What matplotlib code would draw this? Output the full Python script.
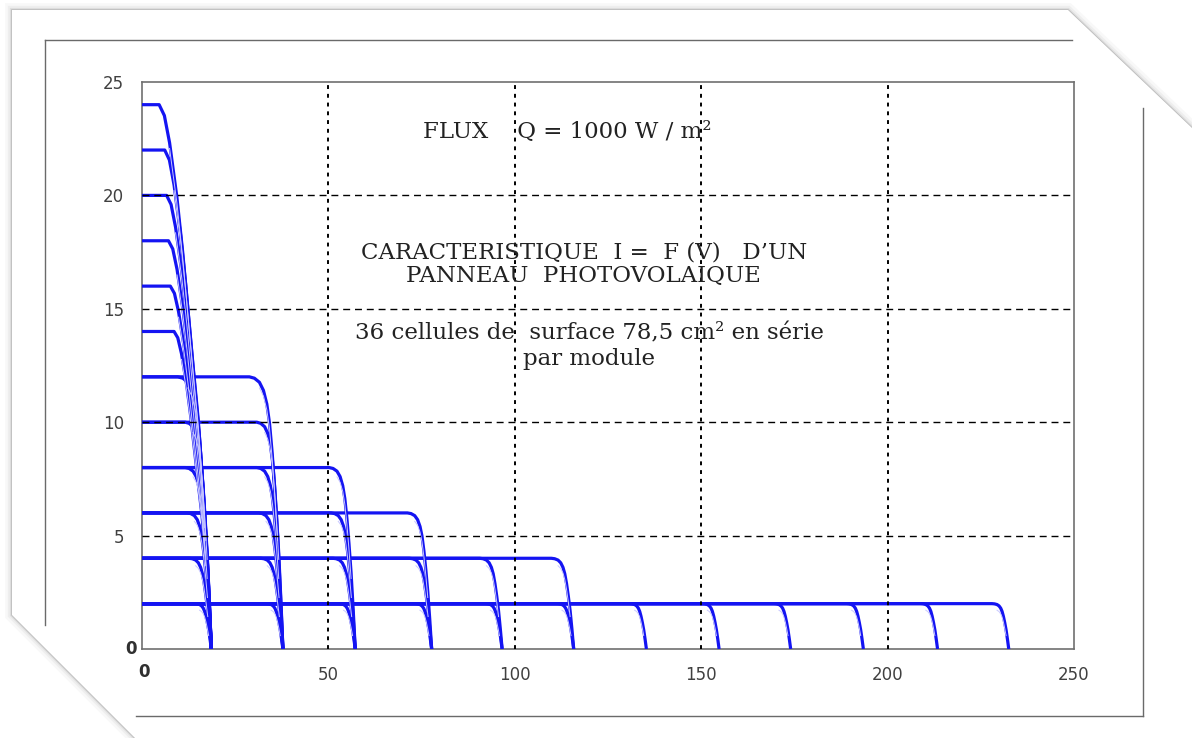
import numpy as np
import matplotlib
matplotlib.use("Agg")
import matplotlib.pyplot as plt
from matplotlib.patches import Polygon
from matplotlib.lines import Line2D

# ---------------- data ----------------
# module current levels (p modules in parallel -> Isc)
isc_levels = [2, 4, 6, 8, 10, 12, 14, 16, 18, 20, 22, 24]
# open-circuit voltage for s modules in series (s = 1..12)
voc_series = [18.6, 37.8, 57.2, 77.7, 96.6, 115.8, 135.3, 154.8, 174.0, 193.5, 213.4, 232.5]
# number of series modules drawn for each current level
n_series = [12, 6, 4, 3, 2, 2, 1, 1, 1, 1, 1, 1]
# width of the knee (V between start of bend and Voc) for each current level
knee_width = [4.5, 6.0, 6.5, 7.0, 7.0, 9.0, 10.0, 11.0, 11.5, 12.0, 12.5, 14.0]
# normalised knee shapes (fraction of knee width, fraction of Isc)
sharp_u = [0.0, 0.15, 0.30, 0.42, 0.52, 0.60, 0.68, 0.76, 0.84, 0.92, 1.0]
sharp_i = [1.0, 0.995, 0.98, 0.95, 0.90, 0.83, 0.72, 0.58, 0.42, 0.22, 0.0]
round_u = [0.0, 0.10, 0.20, 0.34, 0.45, 0.55, 0.65, 0.75, 0.85, 0.93, 1.0]
round_i = [1.0, 0.98, 0.93, 0.83, 0.73, 0.625, 0.52, 0.42, 0.28, 0.15, 0.0]

x_ticks = [0, 50, 100, 150, 200, 250]
y_ticks = [0, 5, 10, 15, 20, 25]

W, H = 1192, 738
fig = plt.figure(figsize=(W / 100, H / 100), dpi=100)
fig.patch.set_facecolor("white")

def fx(x):
    return x / W

def fy(y):
    return 1 - y / H

# ---------------- card decoration ----------------
card = [(12, 10), (1068, 10), (1192, 128), (1192, 738), (135, 738), (12, 615)]
pts = [(fx(x), fy(y)) for x, y in card]
for lw, a in [(10, 0.05), (6, 0.08), (3, 0.15), (1.2, 0.35)]:
    fig.patches.append(Polygon(pts, closed=True, transform=fig.transFigure,
                               facecolor="none", edgecolor="#808080", lw=lw, alpha=a, zorder=0))
fig.patches.append(Polygon(pts, closed=True, transform=fig.transFigure,
                           facecolor="white", edgecolor="none", zorder=0.5))

frame_lines = [
    [(45, 40), (1072, 40)],
    [(45, 40), (45, 625)],
    [(136, 716), (1143, 716)],
    [(1143, 108), (1143, 716)],
]
for seg in frame_lines:
    fig.lines.append(Line2D([fx(seg[0][0]), fx(seg[1][0])], [fy(seg[0][1]), fy(seg[1][1])],
                            transform=fig.transFigure, color="#6a6a6a", lw=1.0, zorder=1))

# ---------------- axes ----------------
ax = fig.add_axes([fx(142), fy(649), (1074 - 142) / W, (649 - 82) / H])
ax.set_zorder(2)
ax.set_xlim(0, 250)
ax.set_ylim(0, 25)
ax.patch.set_facecolor("white")
for sp in ax.spines.values():
    sp.set_color("#707070")
    sp.set_linewidth(1.2)

blue = (0.08, 0.08, 0.95)

for p_idx, isc in enumerate(isc_levels):
    d = knee_width[p_idx]
    if p_idx < 6:
        su, si = sharp_u, sharp_i
    else:
        su, si = round_u, round_i
    for s in range(n_series[p_idx]):
        voc = voc_series[s]
        v0 = voc - d
        vv = [0.0] + [v0 + u * d for u in su]
        ii = [isc] + [isc * f for f in si]
        ax.plot(vv, ii, color=blue, lw=2.3, solid_capstyle="butt", zorder=3)
        # thin light inner trace seen in the knees
        ax.plot([v0 + u * d for u in su[2:9]], [isc * f - 0.25 for f in si[2:9]],
                color="#c8c8ff", lw=0.7, zorder=3.5)

# grid
for yv in [5, 10, 15, 20]:
    ax.axhline(yv, color="black", lw=1.0, dashes=(5, 3.5), zorder=4)
for xv in [50, 100, 150, 200]:
    ax.axvline(xv, color="black", lw=1.4, dashes=(2, 2.5), zorder=4)

ax.set_xticks(x_ticks)
ax.set_yticks(y_ticks)
ax.set_xticklabels([""] + [str(t) for t in x_ticks[1:]])
ax.set_yticklabels([""] + [str(t) for t in y_ticks[1:]])
ax.tick_params(axis="both", length=0, labelsize=12, labelcolor="#404040")
ax.tick_params(axis="x", pad=12)
ax.tick_params(axis="y", pad=13)
for lab in ax.get_xticklabels() + ax.get_yticklabels():
    lab.set_fontfamily("DejaVu Sans")

# bold zero labels at the origin
ax.text(-1.5, 0.0, "0", ha="right", va="center", fontsize=12, fontweight="bold",
        color="#303030", family="DejaVu Sans")
ax.text(0.5, -0.6, "0", ha="center", va="top", fontsize=12, fontweight="bold",
        color="#303030", family="DejaVu Sans")

# annotations
serif = ["DejaVu Serif"]
tc = "#222222"
fs = 16.5
ax.text(114, 22.8, "FLUX    Q = 1000 W / m²", ha="center", va="center",
        fontsize=fs, family=serif, color=tc, zorder=5)
ax.text(118.5, 17.5, "CARACTERISTIQUE  I =  F (V)   D’UN", ha="center", va="center",
        fontsize=fs, family=serif, color=tc, zorder=5)
ax.text(118.5, 16.45, "PANNEAU  PHOTOVOLAIQUE", ha="center", va="center",
        fontsize=fs, family=serif, color=tc, zorder=5)
ax.text(120, 13.9, "36 cellules de  surface 78,5 cm² en série", ha="center", va="center",
        fontsize=fs, family=serif, color=tc, zorder=5)
ax.text(120, 12.8, "par module", ha="center", va="center",
        fontsize=fs, family=serif, color=tc, zorder=5)

fig.savefig("out.png", dpi=100, facecolor=fig.get_facecolor())
